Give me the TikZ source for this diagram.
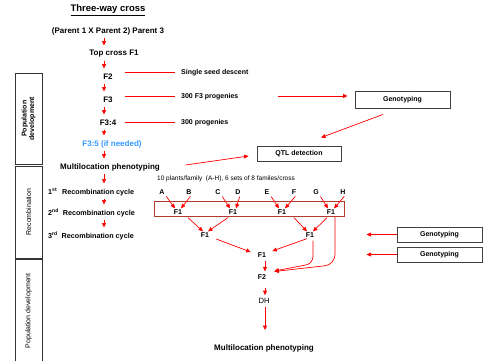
\documentclass[tikz,border=0pt]{standalone}
\usepackage{fontspec}
\setmainfont{Liberation Sans}
\usetikzlibrary{arrows.meta,positioning}
\definecolor{ceglasty}{RGB}{178,60,44}
\definecolor{jasnoniebieski}{RGB}{51,153,255}
\tikzset{
  tytul/.style   = {font=\bfseries\fontsize{9.5}{11}\selectfont, inner sep=1pt},
  etap/.style    = {font=\bfseries\fontsize{8}{9.6}\selectfont, inner sep=1pt},
  cykl/.style    = {font=\bfseries\fontsize{7.2}{8.6}\selectfont, inner sep=1pt, anchor=west},
  opis/.style    = {font=\bfseries\fontsize{7}{8.4}\selectfont, inner sep=1pt, anchor=west},
  litera/.style  = {font=\bfseries\fontsize{7}{8.4}\selectfont, inner sep=1pt},
  ramka/.style   = {draw=black!75, line width=0.9pt, inner sep=1pt,
                    font=\bfseries\fontsize{7}{8.4}\selectfont},
  pas/.style     = {draw=black!80, line width=0.9pt, rotate=90, minimum height=27pt,
                    inner sep=1pt, align=center, font=\fontsize{7}{7.6}\selectfont},
  pudlo/.style   = {draw=ceglasty, line width=1pt, inner sep=0pt},
  strzalka/.style= {-{Triangle[length=4.5pt,width=4pt]}, color=red, line width=0.7pt},
  pion/.style    = {strzalka, shorten <=7pt, shorten >=8.5pt},
  linia/.style   = {color=red, line width=1pt},
}
\begin{document}
\begin{tikzpicture}[x=1pt,y=-1pt]
  \useasboundingbox (0,0) rectangle (485,360);
  \coordinate (os) at (104,0);
  \coordinate (bok) at (125,0);

  % kolumna glowna
  \node[tytul] (tytul) at (108,10) {\underline{Three-way cross}};
  \node[etap] (rodzice) at (108,31) {(Parent 1 X Parent 2) Parent 3};
  \node[etap] (topcross) at (114,54) {Top cross F1};
  \node[etap] (f2) at (108,77) {F2};
  \node[etap] (f3) at (108,100) {F3};
  \node[etap] (f34) at (108,123) {F3:4};
  \node[etap, text=jasnoniebieski] (f35) at (112,144) {F3:5 (if needed)};
  \node[etap] (fenot) at (110,167) {Multilocation phenotyping};
  \node[cykl] (cykl1) at (47,192) {1\textsuperscript{st}\hspace{5pt}Recombination cycle};
  \node[cykl] (cykl2) at (47,213) {2\textsuperscript{nd}\hspace{4pt}Recombination cycle};
  \node[cykl] (cykl3) at (47,236) {3\textsuperscript{rd}\hspace{4pt}Recombination cycle};
  \foreach \a/\b in {rodzice/topcross, topcross/f2, f2/f3, f3/f34, f34/f35,
                     f35/fenot, fenot/cykl1, cykl1/cykl2, cykl2/cykl3}
    \draw[pion] (\a -| os) -- (\b -| os);

  % opisy z boku
  \node[opis] (ssd) at (180,72.6) {Single seed descent};
  \node[opis] (prog1) at (180,96.4) {300 F3 progenies};
  \node[opis] (prog2) at (180,122.6) {300 progenies};
  \foreach \n in {ssd,prog1,prog2}
    \draw[linia, shorten >=5pt] (\n -| bok) -- (\n.west);

  % genotypowanie i QTL
  \node[ramka, minimum width=95pt, minimum height=17pt] (gen1) at (402.5,99.5) {Genotyping};
  \node[ramka, minimum width=84pt, minimum height=15pt] (qtl) at (299,153.5) {QTL detection};
  \coordinate (g1start) at (278,96);
  \draw[strzalka, shorten >=7pt] (g1start) -- (g1start -| gen1.west);
  \draw[strzalka] ([xshift=-19.5pt,yshift=-6pt]gen1.south) -- ([xshift=22pt,yshift=8pt]qtl.north);
  \draw[strzalka] ([xshift=24.5pt,yshift=2pt]fenot.east) -- ([xshift=-8pt,yshift=-2.5pt]qtl.west);

  % rekombinacja
  \node[anchor=west, inner sep=1pt, font=\fontsize{6.5}{7.8}\selectfont] (opisrek) at (156,179)
    {10 plants/family\ \ (A-H), 6 sets of 8 familes/cross};
  \foreach \l/\x in {A/162,B/189,C/218,D/238,E/267,F/294,G/316,H/343}
    \node[litera] (l\l) at (\x,192) {\l};
  \node[pudlo, minimum width=190pt, minimum height=15pt] (pudlo) at (249,209) {};
  \foreach \n/\x in {a/178,b/233,c/282,d/331}
    \node[litera] (f1\n) at (\x,212) {F1};
  \foreach \l/\n in {A/a,C/b,E/c,G/d}
    \draw[strzalka, shorten <=1pt] (l\l.south east) -- ([xshift=-3pt]f1\n.north);
  \foreach \l/\n in {B/a,D/b,F/c,H/d}
    \draw[strzalka, shorten <=1pt] ([xshift=2pt]l\l.south) -- ([xshift=3pt]f1\n.north);

  \node[litera] (f1ab) at (205,235) {F1};
  \node[litera] (f1cd) at (310,235) {F1};
  \draw[strzalka] ([xshift=10pt,yshift=-2pt]f1a.south) -- ([xshift=-2pt]f1ab.north);
  \draw[strzalka] ([xshift=-5pt,yshift=-2pt]f1b.south) -- ([xshift=3pt]f1ab.north);
  \draw[strzalka] ([xshift=12pt,yshift=-2pt]f1c.south) -- ([xshift=-3pt]f1cd.north);
  \draw[strzalka] ([xshift=-4pt,yshift=-2pt]f1d.south) -- ([xshift=3pt]f1cd.north);

  \node[litera] (f1fin) at (262,255) {F1};
  \draw[strzalka] ([xshift=6pt,yshift=-4pt]f1ab.east) -- ([xshift=-6pt,yshift=3pt]f1fin.west);
  \draw[strzalka] ([xshift=-3pt]f1cd.south) -- ([xshift=5pt,yshift=4pt]f1fin.east);

  % populacja koncowa
  \node[litera] (f2dol) at (262,277) {F2};
  \node[etap, font=\fontsize{7.6}{9}\selectfont] (dh) at (264,301) {DH};
  \node[etap] (fenot2) at (264,348) {Multilocation phenotyping};
  \draw[strzalka, shorten <=2pt, shorten >=2pt] ([xshift=3pt]f1fin.south) -- ([xshift=3pt]f2dol.north);
  \draw[strzalka, shorten <=7pt, shorten >=2pt] ([xshift=3pt]f2dol.south) -- ([xshift=1pt]dh.north);
  \draw[strzalka, shorten <=2.5pt, shorten >=13pt] ([xshift=1pt]dh.south) -- ([xshift=1pt]fenot2.north);
  \draw[strzalka, rounded corners=7pt] ([xshift=3pt,yshift=-2pt]f1cd.south) -- ++(0,23)
    -- ([xshift=7pt,yshift=6pt]f2dol.east);
  \draw[strzalka, rounded corners=10pt] ([xshift=4pt,yshift=-1pt]f1d.south) -- ++(0,48)
    -- ([xshift=7pt,yshift=5.5pt]f2dol.east);

  \node[ramka, minimum width=85pt, minimum height=15pt] (gen2) at (439.5,234.5) {Genotyping};
  \node[ramka, minimum width=85pt, minimum height=15pt] (gen3) at (439.5,254.5) {Genotyping};
  \coordinate[left=30pt of gen2.west] (cel2);
  \coordinate[left=30pt of gen3.west] (cel3);
  \draw[strzalka] (gen2.west) -- (cel2);
  \draw[strzalka] (gen3.west) -- (cel3);

  % pasy po lewej
  \node[pas, font=\bfseries\fontsize{7}{7.6}\selectfont, minimum width=91.5pt] (pas1) at (28.5,118.75) {Population\\development};
  \node[pas, minimum width=92pt] (pas2) at (28.5,212) {Recombination};
  \node[pas, minimum width=102.5pt] (pas3) at (28.5,310.75) {Population development};
\end{tikzpicture}
\end{document}
